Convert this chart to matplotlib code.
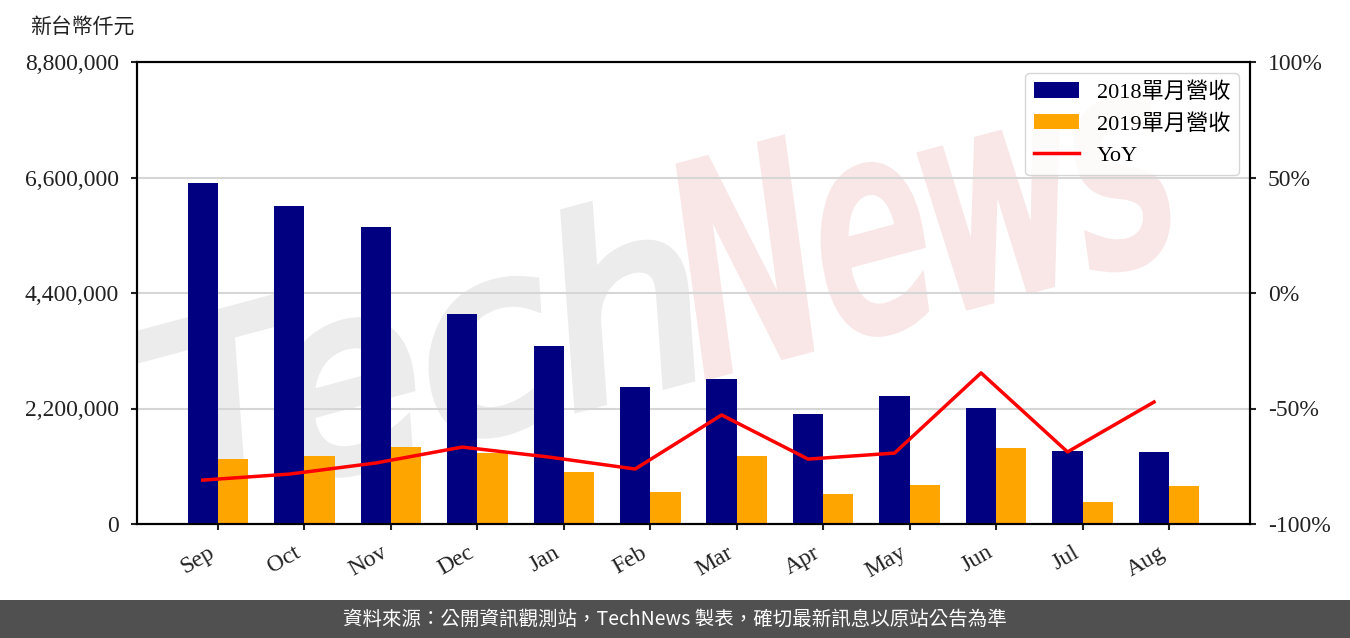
import numpy as np
import matplotlib
matplotlib.use('Agg')
import matplotlib.pyplot as plt
from matplotlib.patches import Rectangle, PathPatch
from matplotlib.textpath import TextPath
from matplotlib.font_manager import FontProperties
from matplotlib.transforms import Affine2D, IdentityTransform
from matplotlib.ticker import FuncFormatter, MultipleLocator

# ---------------- Data ----------------
months = ['Sep', 'Oct', 'Nov', 'Dec', 'Jan', 'Feb', 'Mar', 'Apr', 'May', 'Jun', 'Jul', 'Aug']
rev_2018 = [6495000, 6057000, 5657000, 4000000, 3390000, 2610000,
            2760000, 2095000, 2438000, 2210000, 1390000, 1370000]
rev_2019 = [1238000, 1295000, 1467000, 1352000, 990000, 610000,
            1295000, 571000, 743000, 1448000, 419000, 724000]
yoy = [-81.0, -78.4, -73.6, -66.7, -71.0, -76.2,
       -52.8, -71.9, -69.3, -34.6, -68.8, -47.2]

SERIF = ['Liberation Serif', 'Noto Sans CJK TC', 'DejaVu Sans']
CJK = ['Noto Sans CJK TC', 'DejaVu Sans']
plt.rcParams['font.family'] = SERIF

W, H = 1350, 638
fig = plt.figure(figsize=(W / 100, H / 100), dpi=100)
ax = fig.add_axes([137 / W, 1 - 524 / H, (1250 - 137) / W, (524 - 62) / H])

x = np.arange(len(months))
w = 0.35
b1 = ax.bar(x - w / 2, rev_2018, w, color='#000080', label='2018單月營收', zorder=2)
b2 = ax.bar(x + w / 2, rev_2019, w, color='#FFA500', label='2019單月營收', zorder=2)

ax.set_ylim(0, 8800000)
ax.yaxis.set_major_locator(MultipleLocator(2200000))
ax.yaxis.set_major_formatter(FuncFormatter(lambda v, p: f'{int(v):,}'))
ax.set_xticks(x)
ax.set_xticklabels(months, rotation=30, ha='right')
ax.set_axisbelow(True)
ax.yaxis.grid(True, color='#d6d6d6', lw=1.5)
ax.tick_params(axis='y', labelsize=17, width=1.5, length=4, pad=9, colors='#222222')
ax.tick_params(axis='x', labelsize=17, width=1.5, length=4, pad=9, colors='#222222')

ax2 = ax.twinx()
ln, = ax2.plot(x - w / 2, yoy, color='red', lw=2.5, label='YoY', zorder=3)
ax2.set_ylim(-100, 100)
ax2.yaxis.set_major_locator(MultipleLocator(50))
ax2.yaxis.set_major_formatter(FuncFormatter(lambda v, p: f'{int(v)}%'))
ax2.tick_params(labelsize=17, width=1.5, length=4, pad=9, colors='#222222')

for a in (ax, ax2):
    for s in a.spines.values():
        s.set_linewidth(1.5)

ax2.legend([b1, b2, ln], ['2018單月營收', '2019單月營收', 'YoY'],
           loc='upper right', prop={'family': SERIF, 'size': 16})

# watermark "TechNews" (behind bars)
fp = FontProperties(family='DejaVu Sans', style='italic', weight='normal')

def add_word(word, x0, y0, width, cap, angle, color):
    tp = TextPath((0, 0), word, size=1, prop=fp)
    ext = tp.get_extents()
    sx = width / ext.width
    sy = cap / 0.76
    tr = Affine2D().scale(sx, sy).rotate_deg(angle).translate(x0, H - y0)
    path = tr.transform_path(tp)
    ax.add_patch(PathPatch(path, transform=IdentityTransform(), facecolor=color,
                           edgecolor=color, lw=8, zorder=0.2, clip_on=False))

add_word('Tech', 175, 515, 540, 190, 15, '#ececec')
add_word('News', 705, 375, 490, 215, 15, '#f9e7e7')

fig.text(30 / W, 1 - 27 / H, '新台幣仟元', fontsize=15, family=CJK,
         va='center', ha='left', color='#222222')

# footer
fig.patches.append(Rectangle((0, 0), 1, 38 / H, transform=fig.transFigure,
                             facecolor='#505050', edgecolor='none', zorder=0))
fig.text(0.5, 19 / H, '資料來源：公開資訊觀測站，TechNews 製表，確切最新訊息以原站公告為準',
         color='white', fontsize=14, family=CJK, ha='center', va='center')

fig.savefig('out.png', dpi=100)
